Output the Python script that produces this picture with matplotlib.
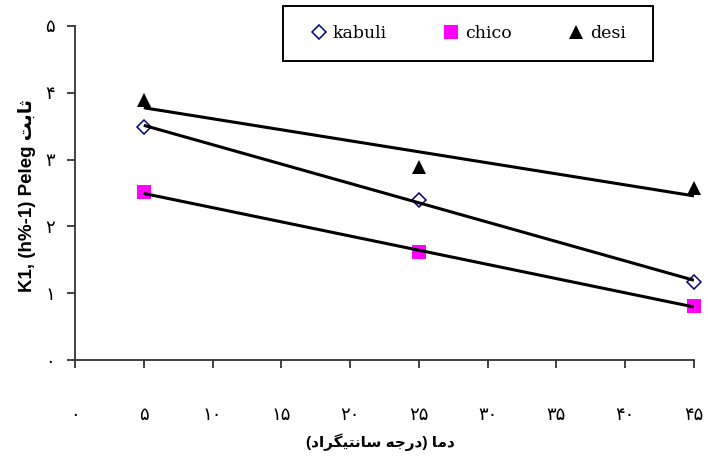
import numpy as np
import matplotlib
matplotlib.use('Agg')
import matplotlib.pyplot as plt
from matplotlib.lines import Line2D
from matplotlib.patches import Rectangle

# ---- data ----
temps = [5, 25, 45]
kabuli = [3.49, 2.40, 1.17]
chico = [2.51, 1.61, 0.81]
desi = [3.89, 2.89, 2.57]
series_names = ['kabuli', 'chico', 'desi']

x_ticks = [0, 5, 10, 15, 20, 25, 30, 35, 40, 45]
x_tick_labels = ['۰', '۵', '۱۰', '۱۵', '۲۰', '۲۵', '۳۰', '۳۵', '۴۰', '۴۵']
y_ticks = [0, 1, 2, 3, 4, 5]
y_tick_labels = ['۰', '۱', '۲', '۳', '۴', '۵']

# Arabic/Persian words given in visual order with presentation forms
sabet_vis = '\uFE96\uFE91\uFE8E\uFE9B'                      # ثابت
dama_vis = '\uFE8E\uFEE3\uFEA9'                             # دما
daraje_vis = '\uFEEA\uFE9F\uFEAD\uFEA9'                     # درجه
santigrad_vis = '\uFEA9\uFE8D\uFEAE\uFB95\uFEF4\uFE98\uFEE7\uFE8E\uFEB3'  # سانتیگراد

y_label = 'K1, (h%-1) Peleg ' + sabet_vis
# right-to-left: "دما (درجه سانتیگراد)" laid out visually left to right
x_label = '(' + santigrad_vis + ' ' + daraje_vis + ') ' + dama_vis

FAM = ['Liberation Sans', 'DejaVu Sans']
W, H = 708, 461

fig = plt.figure(figsize=(W / 100, H / 100), dpi=100)
ax = fig.add_axes([75 / W, 1 - 360 / H, (694 - 75) / W, (360 - 26) / H])

styles = [
    dict(marker='D', markersize=7.6, markerfacecolor='white', markeredgecolor='#000080', markeredgewidth=1.1),
    dict(marker='s', markersize=10.5, markerfacecolor='#FF00FF', markeredgecolor='#FF00FF', markeredgewidth=0),
    dict(marker='^', markersize=10.5, markerfacecolor='black', markeredgecolor='black', markeredgewidth=0),
]

handles = []
for vals, name, st in zip([kabuli, chico, desi], series_names, styles):
    ax.plot(temps, vals, linestyle='none', zorder=3, clip_on=False, **st)
    coef = np.polyfit(temps, vals, 1)
    xs = np.array([min(temps), max(temps)])
    ax.plot(xs, np.polyval(coef, xs), color='black', lw=2.2, zorder=4,
            solid_capstyle='butt')
    handles.append(Line2D([], [], linestyle='none', **st))

ax.set_xlim(0, 45)
ax.set_ylim(0, 5)
ax.set_xticks(x_ticks)
ax.set_xticklabels(x_tick_labels, fontfamily=FAM, fontsize=13)
ax.set_yticks(y_ticks)
ax.set_yticklabels(y_tick_labels, fontfamily=FAM, fontsize=13)

for s in ['top', 'right']:
    ax.spines[s].set_visible(False)
for s in ['left', 'bottom']:
    ax.spines[s].set_color('#333333')
    ax.spines[s].set_linewidth(1.3)

ax.tick_params(axis='x', direction='out', length=5.5, width=1.3, color='#333333', pad=28)
ax.tick_params(axis='y', direction='out', length=5.5, width=1.3, color='#333333', pad=9)

fig.text(380 / W, 1 - 442 / H, x_label, ha='center', va='center',
         fontsize=11, fontweight='bold', family=FAM)
fig.text(27 / W, 1 - 196 / H, y_label, ha='center', va='center', rotation=90,
         fontsize=13.5, fontweight='bold', family=FAM)

# legend frame
fig.patches.append(Rectangle((283 / W, 1 - 61 / H), 370 / W, 55 / H,
                             transform=fig.transFigure, facecolor='white',
                             edgecolor='black', linewidth=1.4, zorder=5))
leg = fig.legend(handles, series_names, ncol=3, loc='center',
                 bbox_to_anchor=(293 / W, 1 - 61 / H, 350 / W, 55 / H), mode='expand',
                 borderaxespad=0, frameon=False, borderpad=1.0,
                 handletextpad=0.3, columnspacing=2.0, handlelength=1.0,
                 prop={'family': 'DejaVu Serif', 'size': 12.5})
leg.set_zorder(6)

fig.savefig('out.png', dpi=100)
